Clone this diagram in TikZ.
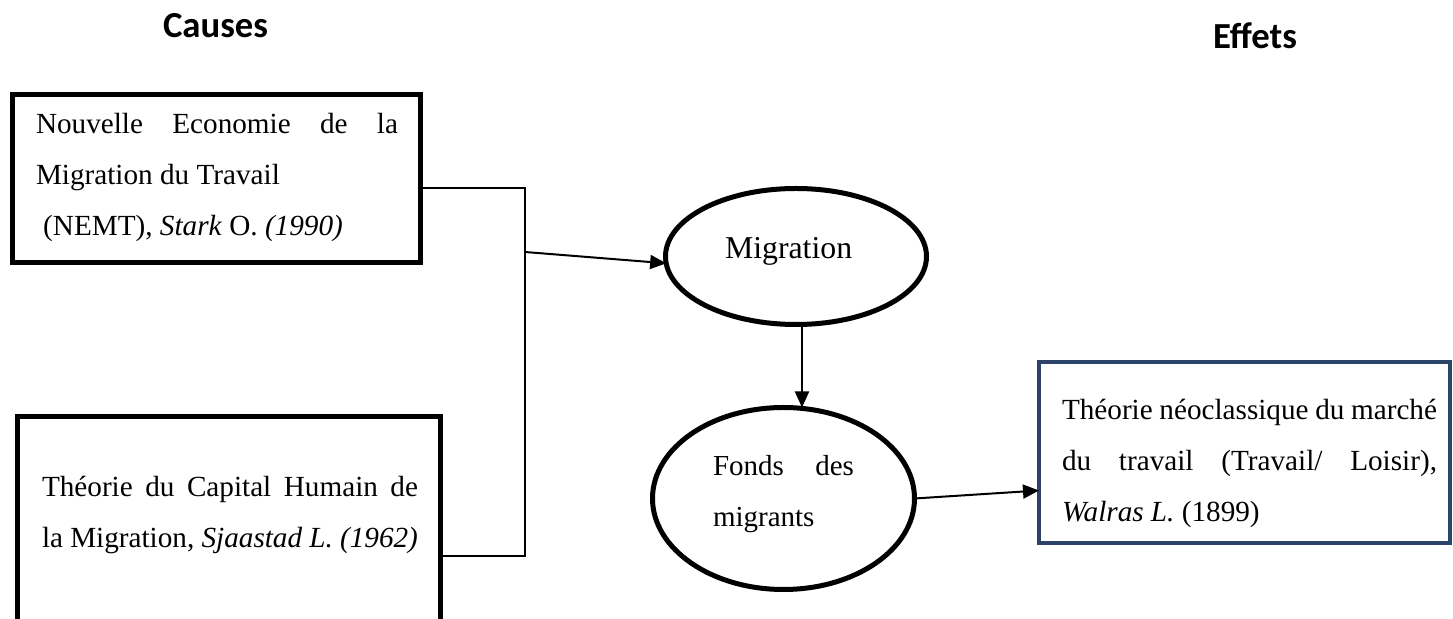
\documentclass[tikz,border=0pt]{standalone}
\usepackage{fontspec}
\setmainfont{Liberation Serif}
\newfontfamily\titlefont{Carlito}
\usetikzlibrary{shapes.geometric,arrows.meta,calc}
\definecolor{navy}{HTML}{2B4468}
\begin{document}
\begin{tikzpicture}[x=0.5pt,y=-0.5pt,
  box/.style={draw, line width=2.5pt, rectangle, inner sep=0pt, outer sep=0pt},
  ell/.style={draw, line width=2.5pt, ellipse, inner sep=0pt, outer sep=0pt},
  txt/.style={inner sep=0pt, outer sep=0pt, anchor=base west, font=\fontsize{14.6}{25.5}\selectfont},
  titletxt/.style={inner sep=0pt, outer sep=0pt, anchor=base west, font=\titlefont\bfseries\fontsize{18.35}{22}\selectfont},
  link/.style={line width=1pt},
  arr/.style={line width=1pt, -{Triangle[length=8pt,width=7pt]}}]
\useasboundingbox (0,0) rectangle (1453,619);

% titles
\node[titletxt] (causes) at (163,38) {Causes};
\node[titletxt] (effets) at (1213,49) {Effets};

% boxes and ellipses
\node[box, minimum width=204pt, minimum height=84pt] (b1) at (216.5,178.5) {};
\node[box, minimum width=211.5pt, minimum height=116.75pt] (b2) at (229,533.25) {};
\node[box, draw=navy, line width=2pt, minimum width=205.5pt, minimum height=90.5pt] (b3) at (1244.5,452.5) {};
\node[ell, minimum width=130.5pt, minimum height=68pt] (mig) at (796,256.5) {};
\node[ell, minimum width=131pt, minimum height=91pt] (fonds) at (783.5,498.5) {};

% texts
\node[txt] (t1) at (36,134) {\parbox[t]{181pt}{\makebox[181pt][s]{Nouvelle Economie de la}\\Migration du Travail\\\hspace*{3.6pt}(NEMT), \textit{Stark} O. \textit{(1990)}}};
\node[txt] (t2) at (42,497) {\parbox[t]{188pt}{\makebox[188pt][s]{Théorie du Capital Humain de}\\la Migration, \textit{Sjaastad L. (1962)}}};
\node[txt] (t3) at (1062,420) {\parbox[t]{187.5pt}{\makebox[187.5pt][s]{Théorie néoclassique du marché}\\\makebox[187.5pt][s]{du travail (Travail/ Loisir),}\\\textit{Walras L.} (1899)}};
\node[txt, font=\fontsize{15.9}{25.5}\selectfont] (tmig) at (725,259) {Migration};
\node[txt, font=\fontsize{14.5}{25.5}\selectfont] (tfonds) at (713,476) {\parbox[t]{70.5pt}{\makebox[70.5pt][s]{Fonds des}\\migrants}};

% connectors
\coordinate (j1) at (525,188);
\coordinate (j2) at (525,556);
\coordinate (j3) at (525,252);
\coordinate (down) at (802,0);
\draw[link] (b1.east |- j1) -- (j1) -- (j2) -- (b2.east |- j2);
\draw[arr] (j3) -- (mig.183.5);
\draw[arr] (mig.south -| down) -- (fonds.north -| down);
\draw[arr] (fonds.east) -- ($(b3.north west)!0.71!(b3.south west)$);
\end{tikzpicture}
\end{document}
